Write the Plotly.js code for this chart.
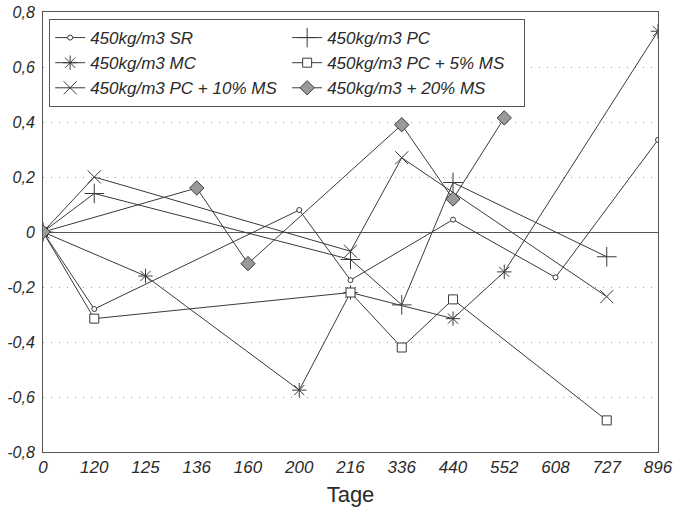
<!DOCTYPE html>
<html>
<head>
<meta charset="utf-8">
<script src="https://cdn.plot.ly/plotly-3.0.1.min.js"></script>
<style>html,body{margin:0;padding:0;background:#fff;}#chart{width:678px;height:511px;}</style>
</head>
<body>
<div id="chart"></div>
<script>
// Categories (days)
const tage = ['0','120','125','136','160','200','216','336','440','552','608','727','896'];

// Series values (null = no measurement at that day)
const sr   = [0, -0.28, null, null, null, 0.08, -0.175, null, 0.045, null, -0.165, null, 0.335];
const pc   = [0, 0.14, null, null, null, null, -0.10, -0.265, 0.18, null, null, -0.09, null];
const mc   = [0, null, -0.16, null, null, -0.575, -0.22, null, -0.315, -0.145, null, null, 0.73];
const ms5  = [0, -0.315, null, null, null, null, -0.22, -0.42, -0.245, null, null, -0.685, null];
const ms10 = [0, 0.20, null, null, null, null, -0.07, 0.27, null, null, null, -0.235, null];
const ms20 = [0, null, null, 0.16, -0.115, null, null, 0.39, 0.12, 0.415, null, null, null];

const names = ['450kg/m3 SR','450kg/m3 PC','450kg/m3 MC','450kg/m3 PC + 5% MS','450kg/m3 PC + 10% MS','450kg/m3 + 20% MS'];

// Y ticks
const yTickVals = [-0.8,-0.6,-0.4,-0.2,0,0.2,0.4,0.6,0.8];
const yTickText = ['-0,8','-0,6','-0,4','-0,2','0','0,2','0,4','0,6','0,8'];

const lineCol = '#3a3a3a';
const font = {family:'"Liberation Sans", Arial, sans-serif', color:'#2a2a2a'};

function tr(y, name, marker){
  return {x: tage, y: y, name: name, type:'scatter', mode:'lines+markers', connectgaps:true,
          line:{color:lineCol, width:1}, marker: marker};
}
const data = [
  tr(sr, names[0], {symbol:'circle', size:5, color:'#fff', line:{color:lineCol, width:1}}),
  tr(pc, names[1], {symbol:'cross-thin-open', size:14, color:lineCol, line:{color:lineCol, width:1}}),
  tr(mc, names[2], {symbol:'asterisk-open', size:12, color:lineCol, line:{color:lineCol, width:1}}),
  tr(ms5, names[3], {symbol:'square', size:9, color:'#fff', line:{color:lineCol, width:1}}),
  tr(ms10, names[4], {symbol:'x-thin-open', size:13, color:lineCol, line:{color:lineCol, width:1}}),
  tr(ms20, names[5], {symbol:'diamond', size:11, color:'#9a9a9a', line:{color:lineCol, width:1}})
];

const layout = {
  width:678, height:511,
  margin:{l:43, r:20, t:12, b:59},
  paper_bgcolor:'#fff', plot_bgcolor:'#fff',
  font: font,
  showlegend:true,
  legend:{orientation:'h', x:0.01, y:0.984, xanchor:'left', yanchor:'top',
          entrywidth:192, entrywidthmode:'pixels', traceorder:'normal',
          bgcolor:'#fff', bordercolor:'#555', borderwidth:1,
          font:{family:font.family, size:17, style:'italic', color:'#2a2a2a'}},
  xaxis:{type:'category', range:[0,12], showgrid:false, zeroline:false,
         showline:true, linecolor:'#555', linewidth:1, mirror:true, ticks:'',
         tickfont:{family:font.family, size:17, style:'italic', color:'#2a2a2a'},
         title:{text:'Tage', font:{family:font.family, size:22, color:'#2a2a2a'}, standoff:10}},
  yaxis:{range:[-0.8,0.8], tickvals:yTickVals, ticktext:yTickText,
         showgrid:true, gridcolor:'#9a9a9a', gridwidth:1, griddash:'1px,7px',
         zeroline:true, zerolinecolor:'#555', zerolinewidth:1,
         showline:true, linecolor:'#555', linewidth:1, mirror:true, ticks:'',
         ticklabelstandoff:4,
         tickfont:{family:font.family, size:16, style:'italic', color:'#2a2a2a'}}
};

Plotly.newPlot('chart', data, layout, {displayModeBar:false, staticPlot:true});
</script>
</body>
</html>
